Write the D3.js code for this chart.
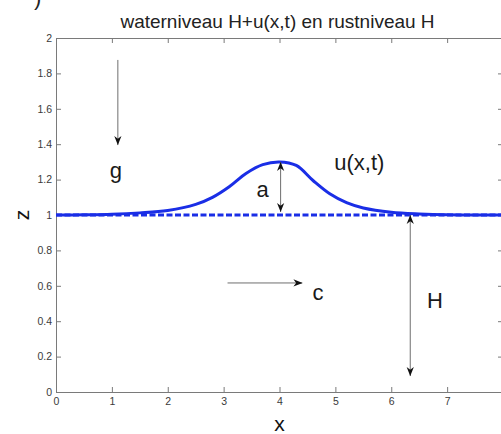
<!DOCTYPE html>
<html>
<head>
<meta charset="utf-8">
<script src="https://cdnjs.cloudflare.com/ajax/libs/d3/7.8.5/d3.min.js"></script>
<style>
  html, body {
    margin: 0;
    padding: 0;
    background: #fff;
  }
  svg text {
    font-family: "Liberation Sans", Arial, Helvetica, sans-serif;
  }
  .axis path, .axis line {
    stroke: #7a7a7a;
  }
  .axis text {
    fill: #3a3a3a;
    font-size: 10.5px;
  }
</style>
</head>
<body>
<div id="chart"></div>
<script>
  // surface wave u(x,t) on rest level H
  var waveX = [0, 0.5, 1, 1.5, 2, 2.5, 2.8, 3.1, 3.4, 3.7, 4.0, 4.3, 4.6, 4.9, 5.2, 5.5, 6, 6.5, 7, 8];
  var waveZ = [1.0, 1.001, 1.004, 1.012, 1.026, 1.06, 1.1, 1.16, 1.235, 1.285, 1.30, 1.28, 1.195, 1.12, 1.07, 1.04, 1.016, 1.006, 1.001, 1.0];
  var restLevel = 1;

  var xTicks = [0, 1, 2, 3, 4, 5, 6, 7, 8];
  var xTickLabels = ["0", "1", "2", "3", "4", "5", "6", "7", ""];
  var zTicks = [0, 0.2, 0.4, 0.6, 0.8, 1, 1.2, 1.4, 1.6, 1.8, 2];

  // annotation arrows in data units: [x1, z1, x2, z2, double-headed]
  var arrows = [
    [1.107, 1.876, 1.107, 1.395, false],  // g
    [4.02, 1.30, 4.02, 1.017, true],      // a
    [3.07, 0.616, 4.41, 0.616, false],    // c
    [6.34, 1.0, 6.34, 0.09, true]         // H
  ];
  var labels = [
    ["g", 0.96, 1.209],
    ["a", 3.59, 1.10],
    ["u(x,t)", 4.98, 1.254],
    ["c", 4.59, 0.52],
    ["H", 6.64, 0.475]
  ];

  var width = 501, height = 434;
  var x = d3.scaleLinear().domain([0, 8]).range([56, 503]);
  var y = d3.scaleLinear().domain([0, 2]).range([392, 38]);

  var svg = d3.select("#chart").append("svg")
    .attr("width", width)
    .attr("height", height);

  var defs = svg.append("defs");
  // matlab style arrow head with a notch
  defs.append("marker")
    .attr("id", "head")
    .attr("markerUnits", "userSpaceOnUse")
    .attr("viewBox", "0 -5 10 10")
    .attr("refX", 10).attr("refY", 0)
    .attr("markerWidth", 9).attr("markerHeight", 9)
    .attr("orient", "auto-start-reverse")
    .append("path")
    .attr("d", "M0,-4L10,0L0,4L3,0Z")
    .attr("fill", "#111");

  // remnant of the panel label cut off at the top
  svg.append("text")
    .attr("x", 34).attr("y", 5)
    .attr("font-size", 22)
    .attr("fill", "#222")
    .text(")");

  svg.append("text")
    .attr("x", (x(0) + x(8)) / 2 - 2).attr("y", 28)
    .attr("text-anchor", "middle")
    .attr("font-size", 19)
    .attr("fill", "#222")
    .text("waterniveau H+u(x,t) en rustniveau H");

  // box with inward ticks on all four sides
  svg.append("g").attr("class", "axis")
    .attr("transform", "translate(0," + y(0) + ")")
    .call(d3.axisBottom(x).tickValues(xTicks).tickSizeInner(-5).tickSizeOuter(0).tickPadding(6)
      .tickFormat(function(d, i) { return xTickLabels[i]; }));
  svg.append("g").attr("class", "axis")
    .attr("transform", "translate(0," + y(2) + ")")
    .call(d3.axisTop(x).tickValues(xTicks).tickSizeInner(-5).tickSizeOuter(0).tickFormat(""));
  svg.append("g").attr("class", "axis")
    .attr("transform", "translate(" + x(0) + ",0)")
    .call(d3.axisLeft(y).tickValues(zTicks).tickSizeInner(-5).tickSizeOuter(0).tickPadding(4).tickFormat(d3.format("")));
  svg.append("g").attr("class", "axis")
    .attr("transform", "translate(" + x(8) + ",0)")
    .call(d3.axisRight(y).tickValues(zTicks).tickSizeInner(-5).tickSizeOuter(0).tickFormat(""));

  svg.append("text")
    .attr("transform", "translate(29," + y(1) + ") rotate(-90)")
    .attr("text-anchor", "middle")
    .attr("font-size", 21)
    .attr("fill", "#111")
    .text("z");
  svg.append("text")
    .attr("x", x(4)).attr("y", 431)
    .attr("text-anchor", "middle")
    .attr("font-size", 21)
    .attr("fill", "#111")
    .text("x");

  var plot = svg.append("g");

  plot.append("line")
    .attr("x1", x(0)).attr("x2", x(8))
    .attr("y1", y(restLevel)).attr("y2", y(restLevel))
    .attr("stroke", "#1a2ee6")
    .attr("stroke-width", 3)
    .attr("stroke-dasharray", "6,2.5");

  var line = d3.line()
    .x(function(d) { return x(d[0]); })
    .y(function(d) { return y(d[1]); })
    .curve(d3.curveCatmullRom);

  plot.append("path")
    .datum(waveX.map(function(v, i) { return [v, waveZ[i]]; }))
    .attr("d", line)
    .attr("fill", "none")
    .attr("stroke", "#1a2ee6")
    .attr("stroke-width", 3);

  plot.selectAll(".arrow").data(arrows).enter()
    .append("line")
    .attr("class", "arrow")
    .attr("x1", function(d) { return x(d[0]); })
    .attr("y1", function(d) { return y(d[1]); })
    .attr("x2", function(d) { return x(d[2]); })
    .attr("y2", function(d) { return y(d[3]); })
    .attr("stroke", "#6e6e6e")
    .attr("stroke-width", 1)
    .attr("marker-end", "url(#head)")
    .attr("marker-start", function(d) { return d[4] ? "url(#head)" : null; });

  plot.selectAll(".label").data(labels).enter()
    .append("text")
    .attr("class", "label")
    .attr("x", function(d) { return x(d[1]); })
    .attr("y", function(d) { return y(d[2]); })
    .attr("font-size", 22)
    .attr("fill", "#1a1a1a")
    .text(function(d) { return d[0]; });
</script>
</body>
</html>
